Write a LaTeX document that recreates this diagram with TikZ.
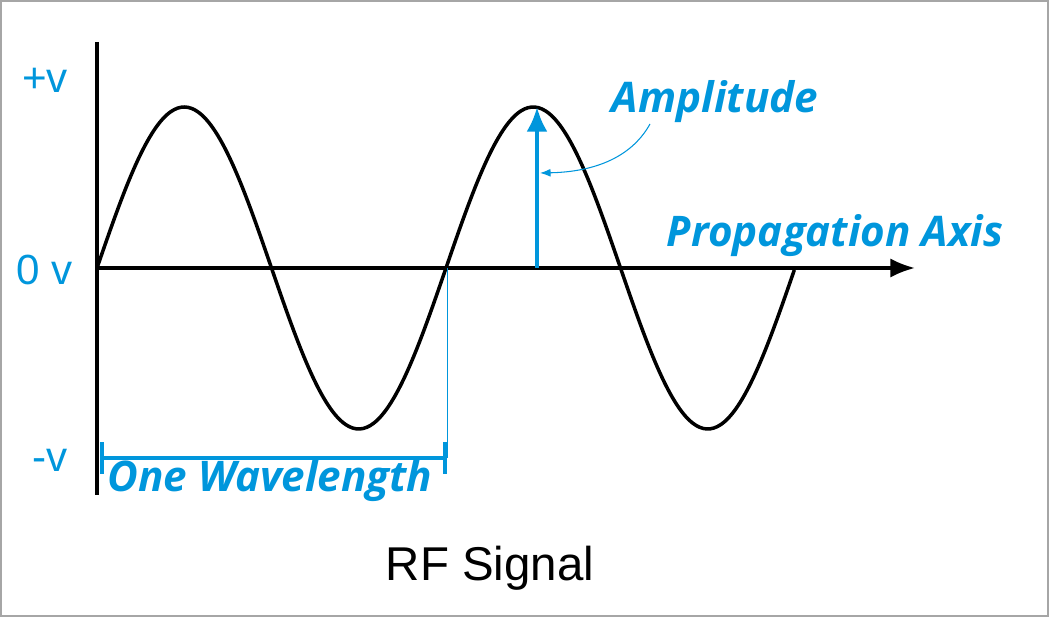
\documentclass[tikz,border=0pt]{standalone}
\usepackage{fontspec}
\setmainfont{Open Sans}
\newfontfamily\arialfont{Liberation Sans}
\usetikzlibrary{arrows.meta}
\definecolor{rfblue}{RGB}{0,150,220}
\tikzset{
  lbl/.style={text=rfblue, font=\fontsize{24}{28}\selectfont\bfseries\itshape},
  vlbl/.style={text=rfblue, font=\arialfont\fontsize{24}{28}\selectfont},
}
\begin{document}
\begin{tikzpicture}[x=0.02cm, y=-0.02cm]
\useasboundingbox (0,0) rectangle (1049,617);
\draw[gray!70, line width=0.8pt] (1,1) rectangle (1048,616);
% axes
\coordinate (o) at (97,268);
\coordinate (top) at (97,42);
\coordinate (bot) at (97,495);
\coordinate (tip) at (915,268);
\draw[line width=1.9pt] (top) -- (bot);
\draw[line width=1.9pt, -{Latex[length=14pt, width=11pt]}] (o) -- (tip);
% wave
\draw[line width=2pt, domain=0:2, samples=200, smooth] plot ({97+349*\x}, {268-161*sin(\x*360)});
% amplitude
\coordinate (peak) at (537,107);
\coordinate (foot) at (537,268);
\draw[rfblue, line width=2.4pt, -{Latex[length=14pt, width=12pt]}] (foot) -- (peak);
\node[lbl] (amp) at (715,102) {Amplitude};
\coordinate (ampmid) at (540,173);
\draw[rfblue, line width=0.6pt, -{Latex[length=6pt]}] (650,124) .. controls (630,160) and (590,172) .. (ampmid);
\node[lbl] (prop) at (835,236) {Propagation Axis};
% levels
\node[vlbl] (pv) at (45,80) {+v};
\node[vlbl] (zv) at (45,270) {0 v};
\node[vlbl] (mv) at (50,460) {-v};
% wavelength
\coordinate (wl) at (100,458);
\coordinate (wr) at (447,458);
\coordinate (cross) at (447,268);
\draw[rfblue, line width=0.5pt] (cross) -- (wr);
\draw[rfblue, line width=2.4pt, {Bar[width=18pt]}-{Bar[width=18pt]}] (wl) -- (wr);
\node[lbl] (wave) at (270,481) {One Wavelength};
\node[font=\arialfont\fontsize{27}{32}\selectfont] (title) at (490,568) {RF Signal};
\end{tikzpicture}
\end{document}
